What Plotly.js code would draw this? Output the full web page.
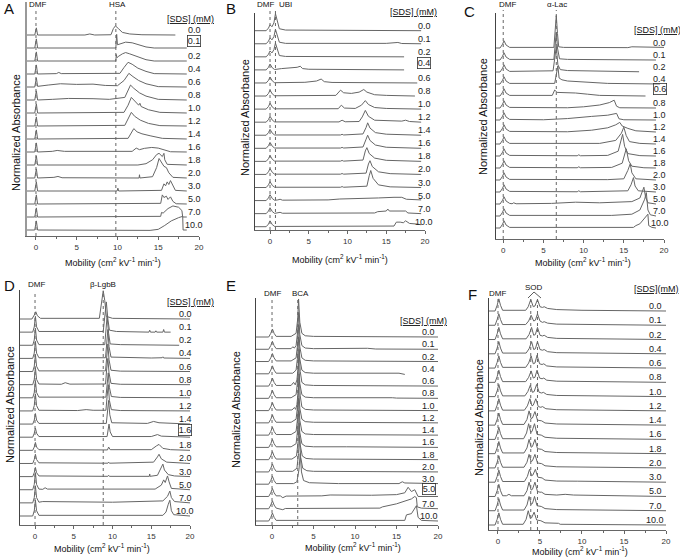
<!DOCTYPE html>
<html><head><meta charset="utf-8">
<script src="https://cdn.plot.ly/plotly-3.0.1.min.js"></script>
<style>html,body{margin:0;padding:0;background:#fff}#c{width:680px;height:559px}</style>
</head><body><div id="c"></div>
<script>
// SDS concentrations (mM), one trace per level, top to bottom
const sdsLabels = ['0.0','0.1','0.2','0.4','0.6','0.8','1.0','1.2','1.4','1.6','1.8','2.0','3.0','5.0','7.0','10.0'];
const proteinNames = ['HSA','UBI','α-Lac','β-LgbB','BCA','SOD'];

// Traces: [mobility, normalized absorbance above own baseline (in trace-spacing units)]
const A_traces = [
 [[-1.1,0],[-0.15,0],[0.05,0.55],[0.2,0],[6,0],[6.6,0.08],[7.2,0],[9.2,0.02],[9.5,0.5],[9.75,0.7],[10.1,0.5],[10.6,0.2],[11.5,0.08],[13,0.02],[17.1,0]],
 [[-1.1,0],[-0.15,0],[0.05,0.7],[0.2,0],[9.8,0],[9.9,1.05],[10.0,0.25],[10.5,0.35],[11,0.45],[11.8,0.4],[12.5,0.25],[13.5,0.08],[14.5,0],[18.5,0]],
 [[-1.1,0],[-0.15,0],[0.05,0.7],[0.2,0],[9.8,0],[9.85,0.5],[9.95,0.25],[10.1,0.35],[10.6,0.55],[11.0,0.65],[11.5,0.55],[12.5,0.3],[13.5,0.1],[14.5,0],[18.5,0]],
 [[-1.1,0],[-0.15,0],[0.05,0.7],[0.2,0],[2.5,0.03],[2.8,0.12],[3.1,0.03],[10.3,0.05],[10.8,0.5],[11.3,0.9],[11.8,0.75],[12.5,0.45],[13.5,0.2],[14.5,0.03],[18.5,0]],
 [[-1.1,0],[-0.15,0],[0.05,0.7],[0.2,0.05],[1.5,0.15],[3,0.25],[5,0.2],[7,0.22],[8.5,0.12],[10,0.1],[10.8,0.5],[11.4,1.05],[11.9,0.8],[12.6,0.5],[13.5,0.25],[15,0.03],[18.5,0]],
 [[-1.1,0],[-0.15,0],[0.05,0.7],[0.2,0],[2,0.05],[4,0.12],[7,0.1],[9,0.05],[10.9,0.2],[11.3,0.8],[11.6,1.15],[12.0,0.9],[12.7,0.55],[13.5,0.3],[15,0.05],[18.5,0]],
 [[-1.1,0],[-0.15,0],[0.05,0.7],[0.2,0],[10.8,0.05],[11.3,0.6],[11.7,1.2],[12.1,0.9],[12.6,0.6],[12.75,0.75],[12.9,0.5],[13.8,0.25],[15.2,0.05],[18.5,0]],
 [[-1.1,0],[-0.15,0],[0.05,0.7],[0.2,0],[10.9,0.05],[11.4,0.7],[11.7,1.05],[12.1,0.75],[12.8,0.45],[13.8,0.2],[15.2,0.03],[18.5,0]],
 [[-1.1,0],[-0.15,0],[0.05,0.7],[0.2,0],[11.3,0.05],[11.7,0.5],[12.0,0.8],[12.4,0.55],[13,0.4],[14,0.25],[15.5,0.05],[18.5,0]],
 [[-1.1,0],[-0.15,0],[0.05,0.7],[0.2,0],[2,0.05],[2.6,0.12],[3.5,0.05],[11.8,0.05],[12.3,0.3],[12.7,0.18],[13.3,0.28],[14.2,0.35],[15,0.3],[15.8,0.15],[16.5,0.02],[18.5,0]],
 [[-1.1,0],[-0.15,0],[0.05,0.7],[0.2,0],[12.5,0],[13.5,0.1],[14.3,0.4],[14.8,0.8],[15.1,0.9],[15.5,0.65],[15.7,0.9],[15.8,0.4],[16.1,0.05],[18.5,0]],
 [[-1.1,0],[-0.15,0],[0.05,0.7],[0.2,0],[2.2,0.05],[2.7,0.12],[3.2,0.02],[12.65,0],[12.7,0.25],[12.75,0],[14.3,0.1],[14.8,0.8],[15.1,1.5],[15.4,1.2],[15.7,0.9],[16,0.8],[16.3,0.4],[16.8,0.05],[18.5,0]],
 [[-1.1,0],[-0.15,0],[0.05,0.7],[0.2,0],[9.95,0],[10.05,0.22],[10.15,0],[15.4,0.05],[15.7,0.55],[15.9,0.4],[16.1,0.7],[16.3,0.5],[16.5,0.8],[16.8,0.4],[17.1,0.05],[18.5,0]],
 [[-1.1,0],[-0.15,0],[0.05,0.7],[0.2,0],[15.3,0.05],[15.5,0.7],[15.7,0.5],[16,0.6],[16.2,0.35],[16.5,0.55],[16.8,0.2],[17.2,0.02],[18.5,0]],
 [[-1.1,0],[-0.15,0],[0.05,0.7],[0.2,0],[15.3,0.05],[15.4,0.35],[15.6,0.3],[16.2,0.65],[16.8,0.85],[17.5,0.75],[17.9,0.5],[18.0,0],[18.5,0]],
 [[-1.1,0],[-0.15,0],[0.05,0.7],[0.2,0],[14,-0.03],[15,0.05],[15.8,0.35],[16.6,0.7],[17.5,0.95],[18,1.05],[18.05,0],[18.5,0]]
];
const B_traces = [
 [[-1.94,0],[-0.5,0],[-0.2,0.2],[0,0.45],[0.25,0.3],[0.5,0.6],[0.7,1.3],[0.95,0.6],[1.2,0.15],[2,0.05],[10,0.02],[19.5,0]],
 [[-1.94,0],[-0.5,0],[-0.2,0.2],[0,0.45],[0.25,0.3],[0.5,0.55],[0.7,1.1],[0.95,0.55],[1.2,0.12],[2,0.03],[15,0.03],[16.5,0.1],[17,0.02],[19.5,0]],
 [[-1.94,0],[-0.5,0],[-0.2,0.2],[0,0.45],[0.25,0.3],[0.5,0.55],[0.7,1.05],[0.95,0.5],[1.2,0.1],[2,0.03],[17.3,0]],
 [[-1.94,0],[-0.5,0],[-0.2,0.2],[0,0.45],[0.3,0.15],[0.6,0.03],[1.5,0.1],[2.5,0.15],[3.5,0.2],[3.9,0.28],[4.2,0.1],[5,0.05],[17.3,0]],
 [[-1.94,0],[-0.5,0],[-0.2,0.2],[0,0.45],[0.3,0.15],[0.6,0.02],[4.5,0.05],[6,0.15],[6.6,0.3],[7,0.1],[8,0.04],[19,0]],
 [[-1.94,0],[-0.5,0],[-0.2,0.2],[0,0.45],[0.3,0.15],[0.6,0.02],[8.5,0.05],[8.9,0.35],[9.1,0.45],[9.5,0.25],[10.5,0.2],[11.5,0.3],[12.1,0.5],[12.5,0.3],[13.5,0.1],[15,0.05],[18.7,0]],
 [[-1.94,0],[-0.5,0],[-0.2,0.2],[0,0.45],[0.3,0.15],[0.6,0.02],[8.8,0.03],[9.2,0.3],[9.6,0.08],[11,0.05],[11.8,0.3],[12.3,0.65],[12.7,0.35],[13.5,0.12],[15,0.05],[19.5,0]],
 [[-1.94,0],[-0.5,0],[-0.2,0.2],[0,0.45],[0.3,0.15],[0.6,0.02],[8.9,0.02],[9.3,0.15],[9.7,0.03],[11.5,0.05],[11.9,0.4],[12.3,0.9],[12.7,0.45],[13.5,0.15],[17,0.08],[17.5,0.15],[18,0.05],[19.5,0]],
 [[-1.94,0],[-0.5,0],[-0.2,0.2],[0,0.45],[0.3,0.15],[0.6,0.02],[9.1,0.02],[9.3,0.07],[9.5,0.02],[12.0,0.1],[12.4,0.6],[12.6,0.95],[12.9,0.55],[13.6,0.2],[15,0.08],[19.5,0]],
 [[-1.94,0],[-0.5,0],[-0.2,0.2],[0,0.45],[0.3,0.15],[0.6,0.02],[9.1,0.02],[9.3,0.07],[9.5,0.02],[12.0,0.1],[12.4,0.7],[12.6,1.0],[12.9,0.6],[13.6,0.25],[15,0.08],[19.5,0]],
 [[-1.94,0],[-0.5,0],[-0.2,0.2],[0,0.45],[0.3,0.15],[0.6,0.02],[9.1,0.02],[9.3,0.07],[9.5,0.02],[12.0,0.1],[12.3,0.8],[12.5,1.05],[12.8,0.6],[13.5,0.25],[15,0.08],[19.5,0]],
 [[-1.94,0],[-0.5,0],[-0.2,0.2],[0,0.45],[0.3,0.15],[0.6,0.02],[9.1,0.02],[9.3,0.07],[9.5,0.02],[12.4,0.1],[12.7,0.8],[12.9,1.05],[13.2,0.6],[14,0.2],[15.5,0.06],[19.5,0]],
 [[-1.94,0],[-0.5,0],[-0.2,0.2],[0,0.45],[0.3,0.15],[0.6,0.02],[9.1,0.02],[9.3,0.07],[9.5,0.02],[12.5,0.1],[12.8,0.9],[13.0,1.3],[13.3,0.7],[14,0.2],[15.5,0.05],[19.5,0]],
 [[-1.94,0],[-0.5,0],[-0.2,0.2],[0,0.45],[0.3,0.15],[0.6,0.02],[1.0,0.05],[1.3,0.1],[1.6,0.03],[7.5,0.05],[9,0.12],[12,0.15],[14,0.2],[16,0.25],[17,0.25],[17.6,0.1],[19.5,0.05]],
 [[-1.94,0],[-0.5,0],[-0.2,0.2],[0,0.45],[0.3,0.15],[0.6,0.02],[1.3,0.1],[1.6,0.03],[13.5,0.05],[13.9,0.15],[15,0.2],[15.2,0.35],[15.4,0.2],[17,0.2],[17.5,0.2],[17.8,0.05],[19.5,0]],
 [[-1.94,0],[-0.5,0],[-0.2,0.2],[0,0.45],[0.3,0.15],[0.6,0.02],[16,0.05],[16.3,0.35],[16.8,0.35],[17.2,0.3],[17.5,0.45],[18,0.25],[19,0.2],[19.5,0.15]]
];
const C_traces = [
 [[-0.9,0],[-0.4,0],[-0.1,0.3],[0.1,0.6],[0.35,0.25],[0.8,0.05],[6.3,0.05],[6.5,1.5],[6.6,2.7],[6.75,1.2],[6.9,0.1],[7.5,0.05],[15.5,0.03],[16,0.1],[20,0.05]],
 [[-0.9,0],[-0.4,0],[-0.1,0.3],[0.1,0.6],[0.35,0.25],[0.8,0.05],[6.3,0.05],[6.45,1.2],[6.6,2.3],[6.75,1.0],[7.0,0.1],[8,0.05],[19,0]],
 [[-0.9,0],[-0.4,0],[-0.1,0.3],[0.1,0.6],[0.35,0.25],[0.8,0.05],[6.2,0.1],[6.4,1.0],[6.6,2.1],[6.8,0.6],[7.1,0.2],[8,0.12],[16.9,0.02]],
 [[-0.9,0],[-0.4,0],[-0.1,0.3],[0.1,0.6],[0.35,0.25],[0.8,0.05],[6.4,0.05],[6.6,0.9],[6.8,1.5],[6.95,0.5],[7.3,0.35],[8,0.25],[10,0.15],[13,0.05],[19.5,0]],
 [[-0.9,0],[-0.4,0],[-0.1,0.3],[0.1,0.6],[0.35,0.25],[0.8,0.05],[6.1,0.05],[6.4,0.5],[6.7,0.3],[7.5,0.3],[9,0.25],[10.5,0.15],[12,0.05],[17.7,0]],
 [[-0.9,0],[-0.4,0],[-0.1,0.3],[0.1,0.6],[0.35,0.25],[0.8,0.05],[8,0.02],[10,0.1],[12,0.25],[13.2,0.45],[13.8,0.65],[14.1,0.15],[14.5,0.02],[19,0]],
 [[-0.9,0],[-0.4,0],[-0.1,0.3],[0.1,0.6],[0.35,0.25],[0.8,0.05],[5,0.02],[8,0.12],[11,0.3],[13,0.4],[14.1,0.55],[14.4,0.1],[15,0.02],[19,0]],
 [[-0.9,0],[-0.4,0],[-0.1,0.3],[0.1,0.6],[0.35,0.25],[0.8,0.05],[8,0.02],[11,0.15],[13,0.35],[14.0,0.6],[14.5,0.8],[14.8,0.5],[15.5,0.3],[16.5,0.1],[19,0]],
 [[-0.9,0],[-0.4,0],[-0.1,0.3],[0.1,0.6],[0.35,0.25],[0.8,0.05],[12,0.05],[14,0.3],[14.7,0.9],[15.0,1.4],[15.3,0.7],[15.7,0.2],[17,0.05],[19,0]],
 [[-0.9,0],[-0.4,0],[-0.1,0.3],[0.1,0.6],[0.35,0.25],[0.8,0.05],[9.2,0.02],[9.4,0.1],[9.6,0.02],[13,0.05],[14.3,0.4],[14.7,1.4],[14.85,1.8],[15.1,0.8],[15.5,0.2],[17,0.03],[19,0]],
 [[-0.9,0],[-0.4,0],[-0.1,0.3],[0.1,0.6],[0.35,0.25],[0.8,0.05],[9.2,0.02],[9.4,0.1],[9.6,0.02],[13.5,0.05],[14.8,0.4],[15.1,1.2],[15.3,1.6],[15.6,0.6],[16,0.15],[17.5,0.02],[19,0]],
 [[-0.9,0],[-0.4,0],[-0.1,0.3],[0.1,0.6],[0.35,0.25],[0.8,0.05],[13,0.03],[15,0.1],[15.5,0.8],[15.8,1.35],[16.0,0.6],[16.5,0.1],[19,0]],
 [[-0.9,0],[-0.4,0],[-0.1,0.3],[0.1,0.6],[0.35,0.25],[0.8,0.05],[9.2,0.02],[9.4,0.1],[9.6,0.02],[15.5,0.1],[15.9,0.6],[16.2,1.2],[16.4,0.5],[16.8,0.1],[19,0]],
 [[-0.9,0],[-0.4,0],[-0.1,0.3],[0.1,0.6],[0.35,0.25],[0.8,0.05],[1.1,0.02],[1.3,0.1],[1.6,0.02],[6,0.05],[9,0.15],[12,0.1],[16,0.2],[17,0.5],[17.5,1.4],[17.7,0.6],[18,0.1],[19,0]],
 [[-0.9,0],[-0.4,0],[-0.1,0.3],[0.1,0.6],[0.35,0.25],[0.8,0.05],[13.5,0.05],[16,0.15],[17,0.5],[17.6,1.4],[17.8,1.95],[18.0,0.5],[18.3,0.1],[19,0]],
 [[-0.9,0],[-0.4,0],[-0.1,0.3],[0.1,0.6],[0.35,0.25],[0.8,0.05],[16.2,0.05],[16.5,0.2],[17,0.35],[17.6,0.8],[18.0,1.15],[18.1,0.2],[18.5,0.05],[19,0]]
];
const D_traces = [
 [[-1.94,0],[-0.4,0],[-0.1,0.3],[0.1,0.55],[0.3,0.25],[0.7,0.05],[8.3,0.05],[8.6,1.2],[8.8,2.15],[9.0,1.4],[9.2,0.2],[10,0.05],[20,0]],
 [[-1.94,0],[-0.3,0],[-0.1,0.4],[0.05,1.2],[0.2,0.4],[0.5,0.05],[8.8,0.05],[9.0,1.2],[9.2,2.3],[9.4,1.0],[9.6,0.15],[10.5,0.05],[14.7,0],[14.8,0.15],[14.9,0],[15.5,0],[15.6,0.1],[15.7,0],[16.5,0],[16.6,0.2],[16.7,0],[17.5,0]],
 [[-1.94,0],[-0.3,0],[-0.1,0.4],[0.05,1.3],[0.2,0.4],[0.5,0.05],[9.0,0.05],[9.15,1.3],[9.3,2.2],[9.5,0.9],[9.7,0.1],[11,0.05],[18.6,0]],
 [[-1.94,0],[-0.3,0],[-0.1,0.4],[0.05,1.3],[0.2,0.4],[0.5,0.05],[9.1,0.05],[9.25,1.3],[9.4,2.2],[9.55,0.9],[9.8,0.1],[15,0.03],[16.4,0.05],[16.5,0.12],[16.6,0.03],[20,0]],
 [[-1.94,0],[-0.3,0],[-0.1,0.4],[0.05,1.3],[0.2,0.4],[0.5,0.05],[9.1,0.05],[9.25,1.2],[9.4,2.1],[9.55,0.9],[9.8,0.1],[11,0.03],[20,0]],
 [[-1.94,0],[-0.3,0],[-0.1,0.4],[0.05,1.3],[0.2,0.4],[0.5,0.05],[3.4,0.03],[3.9,0.15],[4.5,0.04],[9.1,0.05],[9.25,1.2],[9.4,2.0],[9.55,0.9],[9.8,0.1],[11,0.03],[20,0]],
 [[-1.94,0],[-0.3,0],[-0.1,0.4],[0.05,1.3],[0.2,0.4],[0.5,0.05],[9.15,0.05],[9.3,1.1],[9.45,1.9],[9.6,0.8],[9.85,0.1],[11,0.03],[20,0]],
 [[-1.94,0],[-0.3,0],[-0.1,0.4],[0.05,1.3],[0.2,0.4],[0.5,0.05],[5.5,0.03],[6.6,0.1],[7.5,0.05],[9.15,0.05],[9.3,1.1],[9.45,2.0],[9.6,0.8],[9.85,0.1],[11,0.03],[20,0]],
 [[-1.94,0],[-0.3,0],[-0.1,0.3],[0.05,0.8],[0.2,0.3],[0.5,0.05],[9.2,0.05],[9.35,1.0],[9.5,1.8],[9.65,0.7],[9.9,0.1],[14.5,0.05],[15.3,0.2],[16,0.1],[20,0]],
 [[-1.94,0],[-0.3,0],[-0.1,0.3],[0.05,0.7],[0.2,0.3],[0.5,0.05],[9.3,0.05],[9.45,0.6],[9.55,1.0],[9.7,0.4],[10,0.05],[15,0.05],[15.8,0.2],[16.3,0.08],[20,0]],
 [[-1.94,0],[-0.3,0],[-0.1,0.25],[0.05,0.6],[0.2,0.25],[0.5,0.05],[9.35,0.03],[9.5,0.25],[9.7,0.05],[15,0.05],[15.7,0.35],[16.0,0.45],[16.5,0.15],[17.5,0.05],[20,0]],
 [[-1.94,0],[-0.3,0],[-0.1,0.3],[0.05,0.7],[0.2,0.3],[0.5,0.05],[9.4,0.02],[9.5,0.1],[9.6,0.02],[15.3,0.1],[15.8,0.5],[16.0,0.7],[16.3,0.35],[17,0.1],[20,0]],
 [[-1.94,0],[-0.3,0],[-0.1,0.3],[0.05,0.7],[0.2,0.3],[0.5,0.05],[9.4,0.02],[9.5,0.1],[9.6,0.02],[14.75,0.02],[14.8,0.2],[14.85,0.02],[15.8,0.1],[16.2,0.6],[16.5,0.95],[16.7,0.5],[17.2,0.15],[18,0.05],[20,0]],
 [[-1.94,0],[-0.3,0],[-0.1,0.4],[0.05,1.3],[0.2,0.4],[0.5,0.05],[1.0,0.03],[1.3,0.15],[1.6,0.05],[15.5,0.05],[16.3,0.35],[16.6,0.75],[16.8,0.55],[17.1,1.05],[17.3,0.6],[17.6,0.1],[20,0]],
 [[-1.94,0],[-0.3,0],[-0.1,0.4],[0.05,1.3],[0.2,0.4],[0.5,0.05],[1.0,0.1],[3,0.08],[10,0.05],[16.5,0.15],[17.1,0.5],[17.4,0.9],[17.6,0.4],[18,0.1],[20,0]],
 [[-1.94,0],[-0.3,0],[-0.1,0.4],[0.05,1.2],[0.2,0.4],[0.5,0.05],[16.5,0.05],[16.9,0.3],[17.2,0.9],[17.4,1.2],[17.6,0.4],[17.9,0.1],[20,0]]
];
const E_traces = [
 [[-1.93,0],[-0.4,0],[-0.15,0.3],[0.05,0.65],[0.25,0.3],[0.5,0.05],[2.3,0.05],[2.9,0.3],[3.1,1.5],[3.2,3.1],[3.35,1.2],[3.6,0.3],[4,0.1],[5,0.05],[20,0]],
 [[-1.93,0],[-0.4,0],[-0.15,0.3],[0.05,0.65],[0.25,0.3],[0.5,0.05],[2.3,0.05],[2.5,0.2],[2.7,0.1],[2.9,0.3],[3.1,1.5],[3.2,3.0],[3.35,1.2],[3.6,0.3],[4,0.1],[5,0.05],[11.5,0.08],[12.5,0.02],[20,0]],
 [[-1.93,0],[-0.4,0],[-0.15,0.3],[0.05,0.65],[0.25,0.3],[0.5,0.05],[2.3,0.05],[2.9,0.3],[3.1,1.5],[3.2,3.0],[3.35,1.2],[3.6,0.3],[4,0.1],[5,0.05],[20,0]],
 [[-1.93,0],[-0.4,0],[-0.15,0.3],[0.05,0.65],[0.25,0.3],[0.5,0.05],[2.5,0.05],[2.9,0.3],[3.1,1.5],[3.2,3.0],[3.35,1.2],[3.6,0.3],[4,0.1],[5,0.05],[15.3,0.05],[16.0,-0.05]],
 [[-1.93,0],[-0.4,0],[-0.15,0.3],[0.05,0.65],[0.25,0.3],[0.5,0.05],[2.3,0.05],[2.6,0.3],[2.8,0.1],[3.0,0.5],[3.15,1.5],[3.25,3.0],[3.4,1.2],[3.6,0.3],[4,0.1],[5,0.05],[20,0]],
 [[-1.93,0],[-0.4,0],[-0.15,0.3],[0.05,0.65],[0.25,0.3],[0.5,0.05],[2.3,0.05],[2.9,0.3],[3.1,1.5],[3.2,3.0],[3.35,1.2],[3.6,0.3],[4,0.1],[5,0.05],[14.5,0.05],[15,0.02],[20,0]],
 [[-1.93,0],[-0.4,0],[-0.15,0.3],[0.05,0.65],[0.25,0.3],[0.5,0.05],[2.4,0.05],[2.7,0.25],[2.85,0.1],[3.0,0.5],[3.15,1.5],[3.25,3.0],[3.4,1.2],[3.6,0.3],[4,0.1],[5,0.05],[20,0]],
 [[-1.93,0],[-0.4,0],[-0.15,0.3],[0.05,0.65],[0.25,0.3],[0.5,0.05],[2.3,0.05],[2.9,0.3],[3.1,1.5],[3.2,3.0],[3.35,1.2],[3.6,0.3],[4,0.1],[5,0.05],[20,0]],
 [[-1.93,0],[-0.4,0],[-0.15,0.3],[0.05,0.65],[0.25,0.3],[0.5,0.05],[2.3,0.05],[2.9,0.3],[3.1,1.5],[3.2,3.0],[3.35,1.2],[3.6,0.3],[4,0.1],[5,0.05],[20,0]],
 [[-1.93,0],[-0.4,0],[-0.15,0.3],[0.05,0.65],[0.25,0.3],[0.5,0.05],[2.3,0.05],[2.9,0.3],[3.1,1.5],[3.2,3.0],[3.35,1.2],[3.6,0.3],[4,0.1],[5,0.05],[9,0.05],[20,0]],
 [[-1.93,0],[-0.4,0],[-0.15,0.3],[0.05,0.65],[0.25,0.3],[0.5,0.05],[2.4,0.05],[2.95,0.3],[3.15,1.5],[3.25,3.0],[3.4,1.2],[3.65,0.3],[4.1,0.1],[5,0.05],[20,0]],
 [[-1.93,0],[-0.4,0],[-0.15,0.3],[0.05,0.65],[0.25,0.3],[0.5,0.05],[2.5,0.05],[3.0,0.3],[3.2,1.5],[3.3,2.9],[3.45,1.2],[3.7,0.3],[4.2,0.1],[5,0.05],[20,0]],
 [[-1.93,0],[-0.4,0],[-0.15,0.3],[0.05,0.65],[0.25,0.3],[0.5,0.05],[2.6,0.05],[3.0,0.2],[3.25,1.2],[3.4,2.5],[3.55,1.0],[3.8,0.3],[4.5,0.12],[8,0.05],[15.3,0.05],[15.7,0.2],[16,0.1],[20,0.05]],
 [[-1.93,0],[-0.4,0],[-0.15,0.3],[0.05,0.65],[0.25,0.3],[0.5,0.05],[1.0,0.05],[1.3,-0.1],[1.7,0.03],[6,0.05],[7,0.12],[12,0.1],[15,0.15],[16,0.3],[16.4,0.75],[16.8,0.4],[17.2,0.55],[17.5,0.1],[17.6,0],[20,0]],
 [[-1.93,0],[-0.4,0],[-0.15,0.3],[0.05,0.65],[0.25,0.3],[0.5,0.05],[1.3,-0.08],[1.6,0.02],[13,0.05],[13.3,0.15],[15,0.4],[16,0.6],[16.8,0.8],[17.2,1.0],[17.4,0.9],[17.5,0.15],[18,0.05],[20,0]],
 [[-1.93,0],[-0.4,0],[-0.15,0.3],[0.05,0.65],[0.25,0.3],[0.5,0.05],[16,0.05],[16.2,0.5],[16.8,0.6],[17.2,1.0],[17.4,1.25],[17.6,0.3],[18,0.05],[20,0]]
];
const F_traces = [
 [[-1.07,0],[-0.35,0],[-0.1,0.4],[0.1,0.85],[0.3,0.4],[0.55,0.05],[3.3,0.05],[3.6,0.3],[3.9,0.8],[4.2,0.3],[4.4,0.35],[4.7,0.8],[5.0,0.3],[5.3,0.25],[5.5,0.3],[5.9,0.18],[7,0.1],[10,0.05],[20,0]],
 [[-1.07,0],[-0.35,0],[-0.1,0.4],[0.1,0.8],[0.3,0.4],[0.55,0.05],[3.3,0.05],[3.65,0.3],[3.95,0.7],[4.25,0.3],[4.45,0.35],[4.7,0.8],[5.0,0.3],[5.3,0.2],[5.5,0.25],[5.9,0.15],[7,0.08],[10,0.05],[20,0]],
 [[-1.07,0],[-0.35,0],[-0.1,0.4],[0.1,0.85],[0.3,0.4],[0.55,0.05],[3.35,0.05],[3.7,0.35],[4.0,0.85],[4.25,0.3],[4.45,0.35],[4.7,0.85],[5.0,0.3],[5.3,0.25],[5.5,0.3],[5.9,0.15],[7,0.08],[20,0]],
 [[-1.07,0],[-0.35,0],[-0.1,0.4],[0.1,0.85],[0.3,0.4],[0.55,0.05],[3.35,0.05],[3.7,0.35],[4.0,0.85],[4.25,0.3],[4.45,0.35],[4.7,0.85],[5.0,0.3],[5.3,0.25],[5.5,0.3],[5.9,0.15],[7,0.08],[20,0]],
 [[-1.07,0],[-0.35,0],[-0.1,0.4],[0.1,0.85],[0.3,0.4],[0.55,0.05],[3.3,0.05],[3.65,0.35],[3.95,0.85],[4.2,0.3],[4.4,0.35],[4.65,0.9],[4.95,0.3],[5.25,0.25],[5.45,0.3],[5.8,0.15],[7,0.08],[20,0]],
 [[-1.07,0],[-0.35,0],[-0.1,0.4],[0.1,0.85],[0.3,0.4],[0.55,0.05],[3.3,0.05],[3.65,0.35],[3.95,0.8],[4.2,0.3],[4.4,0.35],[4.65,0.85],[4.95,0.3],[5.25,0.25],[5.45,0.3],[5.8,0.15],[7,0.08],[20,0]],
 [[-1.07,0],[-0.35,0],[-0.1,0.4],[0.1,0.85],[0.3,0.4],[0.55,0.05],[3.2,0.05],[3.55,0.35],[3.85,0.8],[4.1,0.3],[4.3,0.35],[4.6,0.85],[4.9,0.3],[5.2,0.25],[5.4,0.3],[5.8,0.15],[7,0.08],[20,0]],
 [[-1.07,0],[-0.35,0],[-0.1,0.4],[0.1,0.85],[0.3,0.4],[0.55,0.05],[3.15,0.05],[3.5,0.35],[3.8,0.85],[4.05,0.35],[4.2,0.4],[4.5,0.85],[4.8,0.3],[5.1,0.25],[5.3,0.3],[5.7,0.15],[7,0.08],[20,0]],
 [[-1.07,0],[-0.35,0],[-0.1,0.4],[0.1,0.85],[0.3,0.4],[0.55,0.05],[3.1,0.05],[3.45,0.4],[3.7,1.0],[3.95,0.45],[4.1,0.5],[4.4,0.95],[4.7,0.35],[5.0,0.3],[5.2,0.3],[5.6,0.15],[7,0.08],[20,0]],
 [[-1.07,0],[-0.35,0],[-0.1,0.4],[0.1,0.85],[0.3,0.4],[0.55,0.05],[3.05,0.05],[3.4,0.45],[3.65,1.1],[3.9,0.5],[4.05,0.55],[4.35,1.1],[4.65,0.35],[4.95,0.3],[5.15,0.3],[5.6,0.15],[7,0.08],[20,0]],
 [[-1.07,0],[-0.35,0],[-0.1,0.4],[0.1,0.85],[0.3,0.4],[0.55,0.05],[3.1,0.05],[3.45,0.4],[3.7,1.0],[3.95,0.45],[4.1,0.5],[4.4,1.0],[4.7,0.35],[5.0,0.3],[5.2,0.3],[5.6,0.15],[7,0.08],[20,0]],
 [[-1.07,0],[-0.35,0],[-0.1,0.4],[0.1,0.85],[0.3,0.4],[0.55,0.05],[3.1,0.05],[3.45,0.4],[3.7,0.95],[3.95,0.45],[4.1,0.5],[4.4,0.95],[4.7,0.35],[5.0,0.3],[5.2,0.3],[5.6,0.15],[7,0.08],[20,0]],
 [[-1.07,0],[-0.35,0],[-0.1,0.4],[0.1,0.85],[0.3,0.4],[0.55,0.05],[3.15,0.05],[3.5,0.4],[3.75,0.9],[4.0,0.45],[4.15,0.5],[4.45,0.9],[4.75,0.35],[5.05,0.3],[5.25,0.3],[5.6,0.15],[7,0.08],[9.5,0.07],[20,0]],
 [[-1.07,0],[-0.35,0],[-0.1,0.4],[0.1,0.85],[0.3,0.4],[0.55,0.05],[1.0,0.05],[1.3,0.15],[1.6,0.05],[3.1,0.05],[3.45,0.4],[3.7,1.0],[3.95,0.45],[4.1,0.5],[4.4,1.0],[4.7,0.35],[5.0,0.3],[5.2,0.3],[5.6,0.15],[7,0.1],[8,0.15],[9,0.1],[20,0]],
 [[-1.07,0],[-0.35,0],[-0.1,0.4],[0.1,0.85],[0.3,0.4],[0.55,0.05],[3.1,0.05],[3.45,0.4],[3.7,1.0],[3.95,0.45],[4.1,0.5],[4.35,1.0],[4.65,0.35],[4.95,0.3],[5.15,0.3],[5.6,0.15],[7,0.08],[20,0]],
 [[-1.07,0],[-0.35,0],[-0.1,0.4],[0.1,0.85],[0.3,0.4],[0.55,0.05],[3.0,0.05],[3.35,0.4],[3.6,1.0],[3.85,0.45],[4.0,0.5],[4.3,0.9],[4.6,0.35],[4.9,0.3],[5.1,0.3],[5.6,0.15],[7.0,0.08],[7.2,0.12],[7.4,0.05],[20,0]]
];
// Reference-peak mobilities (dotted guide lines)
const A_markers = [0, 9.8];
const B_markers = [0, 0.7];
const C_markers = [0, 6.6];
const D_markers = [0, 8.8];
const E_markers = [0, 3.1];
const F_markers = [0, 3.9, 4.7];

const W = 680, H = 559;
const PX = x => x / W, PY = y => 1 - y / H;
const FONT = 'Liberation Sans, Arial, sans-serif';

// layout geometry (pixels)
const panels = [
 {L:'A', tr:A_traces, mk:A_markers, box:[27,2,199,236], base:[35,230], xmin:-1.1, lx:19.4, boxed:[1], axW:2.2, axC:'#999',
  letter:[9,9], dmf:[37,5], prot:[117,5], sds:[190,19], sdsTxt:'[SDS] (mM)', yt:[16,133], xt:[113,262], dotTop:10},
 {L:'B', tr:B_traces, mk:B_markers, box:[255,13,425,230], base:[30.7,226.7], xmin:-1.94, lx:19.9, boxed:[3], axW:1, axC:'#444',
  letter:[231,9], dmf:[265,5], prot:[285,5], sds:[414,12], sdsTxt:'[SDS] (mM)', yt:[245,118], xt:[340,259], dotTop:9},
 {L:'C', tr:C_traces, mk:C_markers, box:[496,13,664,239], base:[48,228], xmin:-0.9, lx:19.5, boxed:[4], axW:1, axC:'#444',
  letter:[469,11], dmf:[507,4], prot:[557,4], sds:[657,30], sdsTxt:'[SDS] (mM)', yt:[483,117], xt:[583,262], dotTop:10},
 {L:'D', tr:D_traces, mk:D_markers, box:[20,290,190,525], base:[319,516], xmin:-1.94, lx:19.4, boxed:[9], axW:1, axC:'#444',
  letter:[9,285], dmf:[36,284], prot:[103,284], sds:[190,302], sdsTxt:'[SDS] (mM)', yt:[10,405], xt:[102,548], dotTop:292},
 {L:'E', tr:E_traces, mk:E_markers, box:[256,298,438,525], base:[337,521], xmin:-1.93, lx:18.9, boxed:[13], axW:1, axC:'#444',
  letter:[231,285], dmf:[272,293], prot:[300,293], sds:[423,321], sdsTxt:'[SDS] (mM)', yt:[236,410], xt:[353,547], dotTop:300},
 {L:'F', tr:F_traces, mk:F_markers, box:[489,298,666,530], base:[311,525], xmin:-1.07, lx:18.7, boxed:[], axW:1, axC:'#444',
  letter:[472,294], dmf:[498,293], prot:[534,287], sds:[656,289], sdsTxt:'[SDS](mM)', yt:[479,418], xt:[580,551], dotTop:299}
];

const data = [], shapes = [], annotations = [];
const layout = {width:W, height:H, margin:{l:0,r:0,t:0,b:0}, showlegend:false,
  paper_bgcolor:'#fff', plot_bgcolor:'rgba(0,0,0,0)', font:{family:FONT, color:'#222', size:9}};

panels.forEach((p, i) => {
  const n = i === 0 ? '' : String(i + 1);
  const xa = 'x' + n, ya = 'y' + n;
  const [l, t, r, b] = p.box;
  const N = sdsLabels.length - 1;
  const sp = (p.base[1] - p.base[0]) / N;
  const yTop = N + (p.base[0] - t) / sp;
  const yBot = -(b - p.base[1]) / sp;
  layout['xaxis' + n] = {domain:[PX(l), PX(r)], anchor:ya, range:[p.xmin, 20],
    showgrid:false, zeroline:false, showline:true, linecolor:'#666', linewidth:1,
    ticks:'outside', ticklen:3, tickwidth:1, tickcolor:'#666', tickmode:'linear', tick0:0, dtick:5,
    minor:{ticks:'outside', ticklen:2, tickcolor:'#666', dtick:2.5, tick0:0},
    tickfont:{size:8, color:'#333', family:FONT}, ticklabelstandoff:0, fixedrange:true};
  layout['yaxis' + n] = {domain:[PY(b), PY(t)], anchor:xa, range:[yBot, yTop],
    showgrid:false, zeroline:false, showline:true, linecolor:p.axC, linewidth:p.axW,
    ticks:'', showticklabels:false, fixedrange:true};

  p.tr.forEach((pts, k) => {
    const off = N - k;
    data.push({type:'scatter', mode:'lines', xaxis:xa, yaxis:ya,
      x: pts.map(q => q[0]), y: pts.map(q => q[1] + off),
      line:{color:'#666', width:1}, hoverinfo:'skip'});
    const boxed = p.boxed.includes(k);
    annotations.push({xref:xa, yref:ya, x:p.lx, y:off + (boxed ? 0.08 : 0.0), yanchor:'bottom', xanchor:'center',
      text:sdsLabels[k], showarrow:false, font:{size:9, color:'#222', family:FONT},
      bordercolor: boxed ? '#333' : 'rgba(0,0,0,0)', borderwidth: boxed ? 0.8 : 0, borderpad:0});
  });

  p.mk.forEach(m => shapes.push({type:'line', xref:xa, yref:'paper', x0:m, x1:m, y0:PY(b), y1:PY(p.dotTop),
    line:{color:'#666', width:1, dash:'dot'}}));

  const A = (pos, text, size, extra) => annotations.push(Object.assign({xref:'paper', yref:'paper',
    x:PX(pos[0]), y:PY(pos[1]), xanchor:'center', yanchor:'middle', text, showarrow:false,
    font:{size, color:'#111', family:FONT}}, extra || {}));
  A(p.letter, p.L, 15);
  A(p.dmf, 'DMF', 8);
  A(p.prot, proteinNames[i], 8);
  A(p.sds, '<u>' + p.sdsTxt + '</u>', 9);
  A(p.yt, 'Normalized Absorbance', 11, {textangle:-90});
  A(p.xt, 'Mobility (cm<sup>2</sup> kV<sup>-1</sup> min<sup>-1</sup>)', 9);
});

// SOD bracket (panel F)
shapes.push({type:'path', xref:'paper', yref:'paper',
  path:`M ${PX(528)} ${PY(298)} L ${PX(534)} ${PY(292)} L ${PX(541)} ${PY(298)}`,
  line:{color:'#333', width:0.8}});

layout.shapes = shapes;
layout.annotations = annotations;
Plotly.newPlot('c', data, layout, {staticPlot:true, displayModeBar:false});
</script>
</body></html>
